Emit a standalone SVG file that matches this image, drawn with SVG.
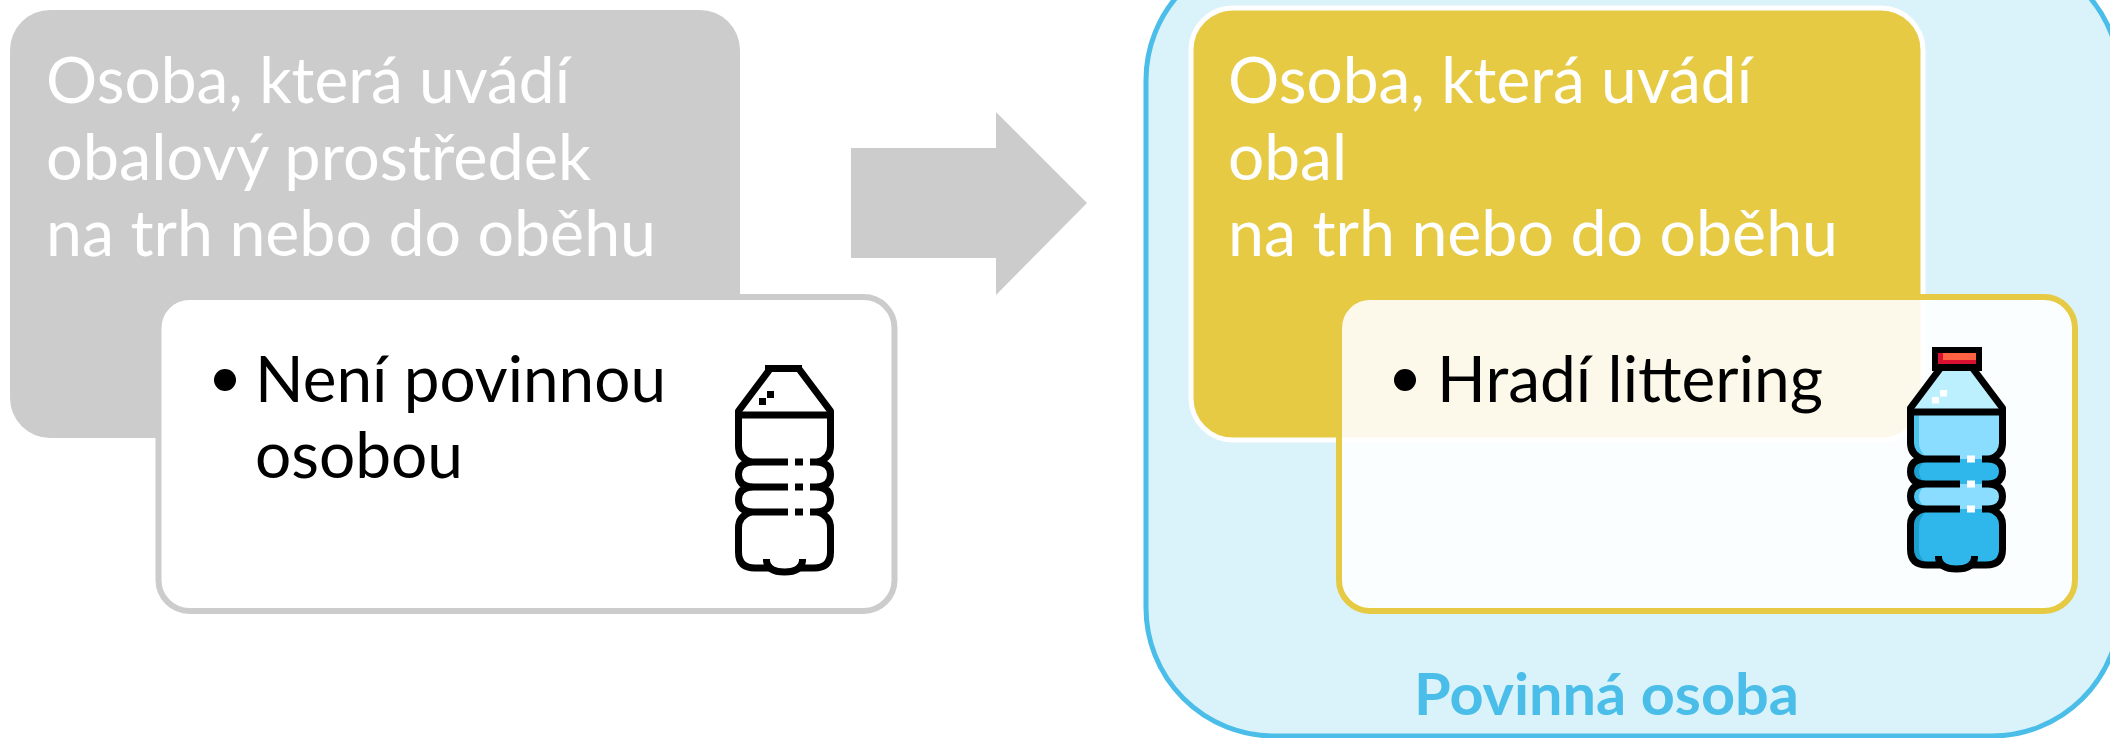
<svg xmlns="http://www.w3.org/2000/svg" xmlns:xlink="http://www.w3.org/1999/xlink" width="2110" height="738" viewBox="0 0 2110 738">
<style>
text{font-family:"Lato","Open Sans","Liberation Sans",sans-serif}
.h{font-size:63px;fill:#fff;font-weight:400}
.b{font-size:63px;fill:#000;font-weight:400}
.o{fill:none;stroke:#000;stroke-width:7;stroke-linejoin:round}
</style>
<defs>
<g id="outline" class="o">
<path d="M770 369L738.500 411V446Q738.500 458 751 462C742 463 738.500 468 738.500 474.500C738.500 481 742 486 751 487C742 488 738.500 493 738.500 499.500C738.500 506 742 511 751 512Q738.500 516 738.500 528V552Q738.500 568 755 568H772"/>
<path d="M797 568H814Q830.500 568 830.500 552V528Q830.500 516 818 512C827 511 830.500 506 830.500 499.500C830.500 493 827 488 818 487C827 486 830.500 481 830.500 474.500C830.500 468 827 463 818 462Q830.500 458 830.500 446V411L799 369"/>
<path d="M738 415H831M751 462H788M810 462H818M751 487H788M810 487H818M751 512H788M810 512H818"/>
<path d="M766.500 559V561Q768 572 784.500 572Q801 572 802.500 561V559"/>
</g>
</defs>
<rect width="2110" height="738" fill="#fff"/>
<g id="node-source-grey">
<rect x="10" y="10" width="730" height="428" rx="40" fill="#cccccc"/>
<text class="h" x="46" y="103" textLength="524" lengthAdjust="spacingAndGlyphs">Osoba, která uvádí</text>
<text class="h" x="46" y="180" textLength="545" lengthAdjust="spacingAndGlyphs">obalový prostředek</text>
<text class="h" x="46" y="256" textLength="610" lengthAdjust="spacingAndGlyphs">na trh nebo do oběhu</text>
</g>
<g id="node-card-grey">
<rect x="158.500" y="297" width="736" height="314" rx="31" fill="#fff" stroke="#cccccc" stroke-width="6"/>
<circle cx="225" cy="380" r="11"/>
<text class="b" x="255" y="402" textLength="411" lengthAdjust="spacingAndGlyphs">Není povinnou</text>
<text class="b" x="255" y="478" textLength="208" lengthAdjust="spacingAndGlyphs">osobou</text>
<g id="bottle-empty">
<use xlink:href="#outline" href="#outline"/>
<path d="M765 368.500H802M795 462H803M795 487H803M795 512H803" class="o"/>
<rect x="759" y="398" width="7" height="7"/><rect x="767" y="391" width="7" height="7"/>
</g>
</g>
<g id="connectors">
<path d="M851 148H996V112L1087 203L996 295V258H851Z" fill="#cccccc"/>
</g>
<g id="node-obliged">
<rect x="1146" y="-48" width="974" height="784" rx="128" fill="#daf2fa" stroke="#4abee8" stroke-width="5"/>
<text x="1414" y="715" font-size="57" font-weight="700" fill="#4abee8" textLength="385" lengthAdjust="spacingAndGlyphs">Povinná osoba</text>
</g>
<g id="node-source-yellow">
<rect x="1191" y="8" width="732" height="432" rx="42" fill="#e6ca43" stroke="#fff" stroke-width="5"/>
<text class="h" x="1228" y="103" textLength="524" lengthAdjust="spacingAndGlyphs">Osoba, která uvádí</text>
<text class="h" x="1228" y="180" textLength="119" lengthAdjust="spacingAndGlyphs">obal</text>
<text class="h" x="1228" y="256" textLength="610" lengthAdjust="spacingAndGlyphs">na trh nebo do oběhu</text>
</g>
<g id="node-card-yellow">
<rect x="1339" y="297" width="736" height="314" rx="31" fill="#fff" fill-opacity=".89" stroke="#e6ca43" stroke-width="6"/>
<circle cx="1405" cy="380" r="11"/>
<text class="b" x="1437" y="402" textLength="386" lengthAdjust="spacingAndGlyphs">Hradí littering</text>
<g id="bottle-full" transform="translate(1172 -3)">
<path d="M770 368H799L830.500 411V415H738.500V411Z" fill="#bdf0ff"/>
<path d="M738.500 415H830.500V446Q830.500 458 818 462H751Q738.500 458 738.500 446Z" fill="#8bddff"/>
<path d="M751 462H818C827 463 830.500 468 830.500 474.500C830.500 481 827 486 818 487H751C742 486 738.500 481 738.500 474.500C738.500 468 742 463 751 462Z" fill="#2fb6eb"/>
<path d="M751 487H818C827 488 830.500 493 830.500 499.500C830.500 506 827 511 818 512H751C742 511 738.500 506 738.500 499.500C738.500 493 742 488 751 487Z" fill="#8bddff"/>
<path d="M751 512H818Q830.500 516 830.500 528V552Q830.500 568 814 568H802.500V561Q801 572 784.500 572Q768 572 766.500 561V568H755Q738.500 568 738.500 552V528Q738.500 516 751 512Z" fill="#2fb6eb"/>
<path d="M740 520Q744 514 755 514Q747 520 747 530V552Q747 560 753 565Q740 564 740 552Z" fill="#1da0cf"/>
<path d="M752 465Q741 466 741 474.500Q741 483 752 484Q747 480 747 474.500Q747 469 752 465Z" fill="#1da0cf"/>
<path d="M741 418H747V446Q747 452 752 458Q741 456 741 446Z" fill="#4ec3ee"/>
<path d="M752 490Q741 491 741 499.500Q741 508 752 509Q747 505 747 499.500Q747 494 752 490Z" fill="#4ec3ee"/>
<use xlink:href="#outline" href="#outline"/>
<path d="M795 462H803M795 487H803M795 512H803" stroke="#fff" stroke-width="7"/>
<rect x="760" y="400" width="7" height="6.500" fill="#fff"/><rect x="768" y="393" width="7" height="6.500" fill="#fff"/>
<rect x="760" y="350" width="50" height="24"/>
<rect x="766" y="356" width="38" height="11" fill="#d9102f"/>
<rect x="771" y="356" width="33" height="7" fill="#ff6243"/>
</g>
</g>
</svg>
